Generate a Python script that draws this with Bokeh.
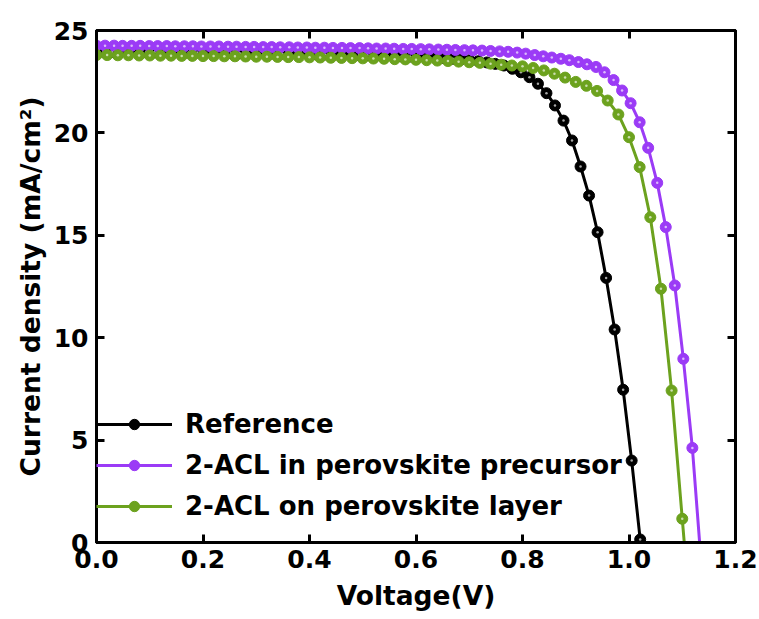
from bokeh.plotting import figure
from bokeh.models import Range1d, LinearAxis, Legend, LegendItem, FixedTicker
from bokeh.embed import file_html
from bokeh.resources import INLINE

# ---------------- data ----------------
ref_v = [0.000, 0.013, 0.029, 0.045, 0.061, 0.077, 0.093, 0.109, 0.125, 0.141,
         0.157, 0.173, 0.189, 0.205, 0.221, 0.237, 0.253, 0.269, 0.285, 0.301,
         0.317, 0.333, 0.349, 0.365, 0.381, 0.397, 0.413, 0.429, 0.445, 0.461,
         0.477, 0.493, 0.509, 0.525, 0.541, 0.557, 0.573, 0.589, 0.605, 0.621,
         0.637, 0.653, 0.669, 0.685, 0.701, 0.717, 0.733, 0.749, 0.765, 0.781,
         0.797, 0.813, 0.829, 0.845, 0.861, 0.877, 0.893, 0.909, 0.925, 0.941,
         0.957, 0.973, 0.989, 1.005, 1.021]
ref_j = [23.96, 23.96, 23.95, 23.95, 23.95, 23.94, 23.94, 23.94, 23.93, 23.93,
         23.92, 23.92, 23.92, 23.91, 23.91, 23.90, 23.90, 23.89, 23.89, 23.88,
         23.88, 23.87, 23.87, 23.86, 23.85, 23.85, 23.84, 23.83, 23.83, 23.82,
         23.81, 23.80, 23.79, 23.78, 23.77, 23.76, 23.74, 23.73, 23.71, 23.69,
         23.67, 23.65, 23.62, 23.59, 23.55, 23.50, 23.44, 23.37, 23.29, 23.13,
         22.96, 22.72, 22.40, 21.94, 21.34, 20.60, 19.63, 18.36, 16.94, 15.15,
         12.92, 10.40, 7.46, 4.00, 0.15]

pre_v = [0.000, 0.016, 0.033, 0.049, 0.066, 0.082, 0.099, 0.115, 0.132, 0.148,
         0.165, 0.181, 0.197, 0.214, 0.230, 0.247, 0.263, 0.280, 0.296, 0.313,
         0.329, 0.345, 0.362, 0.378, 0.395, 0.411, 0.428, 0.444, 0.461, 0.477,
         0.494, 0.510, 0.526, 0.543, 0.559, 0.576, 0.592, 0.609, 0.625, 0.642,
         0.658, 0.674, 0.691, 0.707, 0.724, 0.740, 0.757, 0.773, 0.790, 0.806,
         0.823, 0.839, 0.855, 0.872, 0.888, 0.905, 0.921, 0.938, 0.954, 0.971,
         0.987, 1.003, 1.020, 1.036, 1.053, 1.069, 1.086, 1.102, 1.119, 1.135]
pre_j = [24.26, 24.26, 24.26, 24.25, 24.25, 24.25, 24.24, 24.24, 24.24, 24.23,
         24.23, 24.23, 24.22, 24.22, 24.22, 24.21, 24.21, 24.20, 24.20, 24.19,
         24.19, 24.18, 24.18, 24.17, 24.17, 24.16, 24.16, 24.15, 24.15, 24.14,
         24.14, 24.13, 24.12, 24.12, 24.11, 24.10, 24.10, 24.09, 24.08, 24.07,
         24.06, 24.05, 24.04, 24.03, 24.02, 24.00, 23.98, 23.96, 23.92, 23.87,
         23.80, 23.74, 23.68, 23.62, 23.55, 23.46, 23.35, 23.22, 22.96, 22.58,
         22.07, 21.45, 20.52, 19.27, 17.56, 15.40, 12.55, 8.97, 4.62, -0.80]

lay_v = [0.00, 0.02, 0.04, 0.06, 0.08, 0.10, 0.12, 0.14, 0.16, 0.18,
         0.20, 0.22, 0.24, 0.26, 0.28, 0.30, 0.32, 0.34, 0.36, 0.38,
         0.40, 0.42, 0.44, 0.46, 0.48, 0.50, 0.52, 0.54, 0.56, 0.58,
         0.60, 0.62, 0.64, 0.66, 0.68, 0.70, 0.72, 0.74, 0.76, 0.78,
         0.80, 0.82, 0.84, 0.86, 0.88, 0.90, 0.92, 0.94, 0.96, 0.98,
         1.00, 1.02, 1.04, 1.06, 1.08, 1.10, 1.12]
lay_j = [23.80, 23.80, 23.79, 23.79, 23.78, 23.78, 23.77, 23.77, 23.76, 23.76,
         23.75, 23.75, 23.74, 23.74, 23.73, 23.72, 23.72, 23.71, 23.70, 23.70,
         23.69, 23.68, 23.67, 23.66, 23.65, 23.64, 23.63, 23.62, 23.60, 23.59,
         23.57, 23.55, 23.53, 23.51, 23.48, 23.45, 23.42, 23.38, 23.33, 23.29,
         23.25, 23.17, 23.05, 22.89, 22.70, 22.49, 22.30, 22.05, 21.58, 20.90,
         19.79, 18.33, 15.88, 12.39, 7.42, 1.16, -5.00]

series_names = ["Reference", "2-ACL in perovskite precursor", "2-ACL on perovskite layer"]
series_colors = ["#000000", "#9B3BF6", "#6CA21E"]

x_ticks = [0.0, 0.2, 0.4, 0.6, 0.8, 1.0, 1.2]
y_ticks = [0, 5, 10, 15, 20, 25]

FONT = "DejaVu Sans"
FS = "25px"
FS_AX = "26.5px"
FS_LEG = "26px"

p = figure(width=759, height=619,
           min_border_left=96, min_border_right=24, min_border_top=30, min_border_bottom=77,
           x_range=Range1d(0, 1.2), y_range=Range1d(0, 25),
           output_backend="svg", toolbar_location=None,
           x_axis_label="Voltage(V)", y_axis_label="Current density (mA/cm\u00b2)")

p.grid.visible = False
p.outline_line_color = "black"
p.outline_line_width = 3
p.background_fill_color = "white"
p.border_fill_color = "white"

p.add_layout(LinearAxis(), "above")
p.add_layout(LinearAxis(), "right")

for ax in p.xaxis:
    ax.ticker = FixedTicker(ticks=x_ticks)
for ax in p.yaxis:
    ax.ticker = FixedTicker(ticks=y_ticks)

for ax in p.axis:
    ax.axis_line_width = 3
    ax.axis_line_color = "black"
    ax.major_tick_in = 8
    ax.major_tick_out = 0
    ax.major_tick_line_width = 3
    ax.minor_tick_in = 0
    ax.minor_tick_out = 0
    ax.major_label_text_font = FONT
    ax.major_label_text_font_style = "bold"
    ax.major_label_text_font_size = FS
    ax.major_label_text_color = "black"
    ax.axis_label_text_font = FONT
    ax.axis_label_text_font_style = "bold"
    ax.axis_label_text_font_size = FS_AX
    ax.axis_label_text_color = "black"

p.below[0].major_label_overrides = {0.0: "0.0", 0.2: "0.2", 0.4: "0.4", 0.6: "0.6",
                                    0.8: "0.8", 1.0: "1.0", 1.2: "1.2"}
p.below[0].major_label_standoff = 7
p.below[0].axis_label_standoff = 9
p.left[0].major_label_standoff = 8
p.left[0].axis_label_standoff = 5

# top/right axes: ticks only, no labels drawn
for ax in (p.above[0], p.right[0]):
    ax.major_label_text_font_size = "1px"
    ax.major_label_text_color = None
    ax.major_label_standoff = 0

items = []
for xs, ys, name, col in zip([ref_v, pre_v, lay_v], [ref_j, pre_j, lay_j],
                             series_names, series_colors):
    ln = p.line(xs, ys, line_color=col, line_width=3)
    sc = p.scatter(xs, ys, size=11, fill_color=col, line_color=col, line_width=1)
    p.scatter(xs, ys, size=2.5, fill_color="white", line_color=None, fill_alpha=0.65)
    items.append(LegendItem(label=name, renderers=[ln, sc]))

legend = Legend(items=items, location=(0, 21),
                border_line_color=None, background_fill_alpha=0,
                label_text_font=FONT, label_text_font_style="bold",
                label_text_font_size=FS_LEG, label_text_color="black",
                glyph_width=76, glyph_height=26, label_height=26,
                label_standoff=13, spacing=11, padding=4, margin=0)
p.add_layout(legend)

open("out.html", "w").write(file_html(p, INLINE))
